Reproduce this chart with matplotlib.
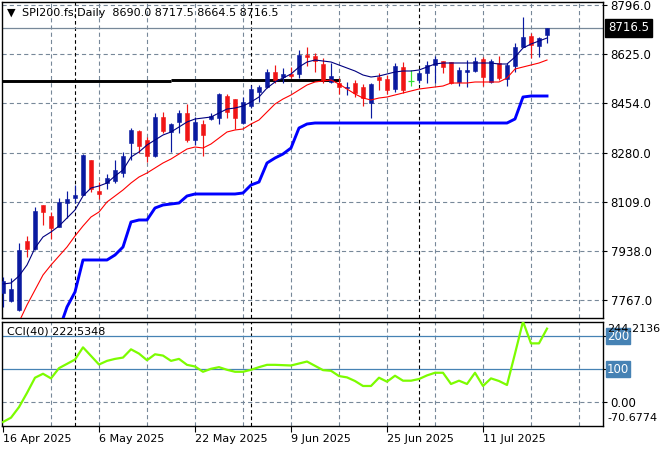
import numpy as np
import matplotlib
matplotlib.use("Agg")
import matplotlib.pyplot as plt
import matplotlib.transforms as mtransforms

plt.rcParams['font.family'] = ['DejaVu Sans']
plt.rcParams['lines.scale_dashes'] = False

# ---------------- data ----------------
symbol = "SPI200.fs,Daily"

opens = [7790.9, 7763.0, 7731.6, 7972.4, 7944.4, 8098.0, 8059.6, 8021.2, 8105.0, 8122.4,
         8132.9, 8255.1, 8146.9, 8174.8, 8181.8, 8209.7, 8314.4, 8356.3, 8324.9, 8269.0,
         8405.1, 8352.8, 8387.7, 8419.1, 8324.9, 8380.7, 8398.1, 8401.6, 8478.4, 8467.9,
         8384.2, 8443.5, 8492.4, 8509.8, 8562.2, 8544.7, 8555.2, 8555.2, 8621.5, 8618.0,
         8590.1, 8527.3, 8523.8, 8506.3, 8523.8, 8509.8, 8454.0, 8544.7, 8537.7, 8502.8,
         8579.6, 8530.8, 8534.3, 8558.7, 8586.6, 8600.6, 8597.1, 8527.3, 8562.2, 8565.7,
         8607.5, 8527.3, 8593.6, 8537.7, 8583.1, 8649.4, 8687.8, 8652.9, 8690.0]
highs = [7846.7, 7843.2, 7965.4, 7989.8, 8091.0, 8098.0, 8073.6, 8122.4, 8146.9, 8167.8,
         8276.0, 8255.1, 8178.3, 8206.2, 8255.1, 8283.0, 8366.7, 8359.8, 8335.3, 8419.1,
         8422.6, 8384.2, 8429.6, 8450.5, 8405.1, 8394.7, 8419.1, 8488.9, 8485.4, 8467.9,
         8474.9, 8516.8, 8516.8, 8572.6, 8586.6, 8576.1, 8579.6, 8639.0, 8649.4, 8628.5,
         8611.0, 8593.6, 8541.2, 8527.3, 8534.3, 8520.3, 8523.8, 8558.7, 8551.7, 8593.6,
         8597.1, 8569.2, 8569.2, 8600.6, 8618.0, 8600.6, 8597.1, 8579.6, 8604.0, 8614.5,
         8614.5, 8607.5, 8618.0, 8593.6, 8663.4, 8754.1, 8698.3, 8684.3, 8717.5]
lows = [7742.0, 7759.5, 7728.0, 7916.5, 7941.0, 8028.2, 7979.3, 8021.2, 8052.6, 8105.0,
        8132.9, 8143.4, 8118.9, 8153.8, 8174.8, 8195.7, 8255.1, 8279.5, 8248.1, 8265.5,
        8349.3, 8283.0, 8349.3, 8317.9, 8307.4, 8269.0, 8394.7, 8380.7, 8401.6, 8363.2,
        8380.7, 8436.5, 8457.5, 8506.3, 8523.8, 8523.8, 8541.2, 8541.2, 8583.1, 8562.2,
        8523.8, 8523.8, 8485.4, 8481.9, 8474.9, 8443.5, 8401.6, 8499.4, 8485.4, 8492.4,
        8488.9, 8513.3, 8523.8, 8523.8, 8523.8, 8558.7, 8520.3, 8513.3, 8509.8, 8562.2,
        8513.3, 8523.8, 8534.3, 8513.3, 8562.2, 8649.4, 8611.0, 8614.5, 8664.5]
closes = [7832.8, 7804.8, 7941.0, 7944.4, 8077.1, 8073.6, 8017.7, 8108.5, 8118.9, 8132.9,
          8272.5, 8153.8, 8136.4, 8192.2, 8220.2, 8269.0, 8359.8, 8303.9, 8269.0, 8405.1,
          8356.3, 8380.7, 8419.1, 8324.9, 8387.7, 8342.3, 8408.6, 8485.4, 8422.6, 8401.6,
          8457.5, 8502.8, 8509.8, 8562.2, 8534.3, 8555.2, 8548.2, 8621.5, 8614.5, 8600.6,
          8534.3, 8548.2, 8509.8, 8509.8, 8488.9, 8471.4, 8520.3, 8534.3, 8499.4, 8583.1,
          8499.4, 8530.8, 8558.7, 8586.6, 8607.5, 8579.6, 8523.8, 8569.2, 8569.2, 8600.6,
          8544.7, 8600.6, 8541.2, 8586.6, 8649.4, 8684.3, 8656.4, 8680.8, 8716.5]

fast_ma = [7822.3, 7825.8, 7850.2, 7888.6, 7947.9, 7986.3, 8003.8, 8024.7, 8052.6, 8080.6,
           8129.4, 8157.3, 8164.3, 8174.8, 8199.2, 8220.2, 8265.5, 8283.0, 8307.4, 8324.9,
           8342.3, 8352.8, 8370.2, 8387.7, 8398.1, 8401.6, 8405.1, 8419.1, 8433.0, 8436.5,
           8443.5, 8457.5, 8474.9, 8506.3, 8527.3, 8541.2, 8555.2, 8579.6, 8597.1, 8604.0,
           8600.6, 8597.1, 8586.6, 8576.1, 8565.7, 8551.7, 8544.7, 8548.2, 8555.2, 8562.2,
           8565.7, 8565.7, 8569.2, 8579.6, 8590.1, 8593.6, 8593.6, 8593.6, 8593.6, 8593.6,
           8593.6, 8593.6, 8590.1, 8590.1, 8614.5, 8645.9, 8659.9, 8670.4, 8680.8]
slow_ma = [7626.9, 7661.8, 7689.7, 7749.0, 7801.4, 7853.7, 7888.6, 7920.0, 7951.4, 7989.8,
           8024.7, 8056.1, 8073.6, 8108.5, 8129.4, 8150.4, 8174.8, 8195.7, 8209.7, 8227.1,
           8244.6, 8258.5, 8276.0, 8293.4, 8300.4, 8296.9, 8310.9, 8331.8, 8352.8, 8359.8,
           8363.2, 8380.7, 8394.7, 8422.6, 8450.5, 8467.9, 8481.9, 8499.4, 8516.8, 8527.3,
           8530.8, 8534.3, 8520.3, 8502.8, 8485.4, 8471.4, 8464.5, 8471.4, 8474.9, 8481.9,
           8488.9, 8495.9, 8502.8, 8506.3, 8509.8, 8513.3, 8523.8, 8523.8, 8523.8, 8527.3,
           8527.3, 8527.3, 8527.3, 8541.2, 8572.6, 8579.6, 8586.6, 8593.6, 8604.0]
nan = float('nan')
stop_line = [nan, nan, nan, nan, nan, nan, nan, 7661.8, 7742.0, 7794.4,
             7906.1, 7906.1, 7906.1, 7906.1, 7923.5, 7951.4, 8038.7, 8045.7, 8045.7, 8087.5,
             8098.0, 8101.5, 8105.0, 8129.4, 8136.4, 8136.4, 8136.4, 8136.4, 8136.4, 8136.4,
             8139.9, 8167.8, 8178.3, 8244.6, 8262.0, 8276.0, 8296.9, 8366.7, 8380.7, 8384.2,
             8384.2, 8384.2, 8384.2, 8384.2, 8384.2, 8384.2, 8384.2, 8384.2, 8384.2, 8384.2,
             8384.2, 8384.2, 8384.2, 8384.2, 8384.2, 8384.2, 8384.2, 8384.2, 8384.2, 8384.2,
             8384.2, 8384.2, 8384.2, 8384.2, 8398.1, 8474.9, 8478.4, 8478.4, 8478.4]

level_prices = [8531.0, 8534.5]
level_from = [-1.0, 21.0]
level_to = [21.0, 42.1]

cci = [-60, -47, -15, 28, 74, 86, 72, 103, 116, 129,
       166, 140, 114, 125, 131, 135, 160, 147, 127, 145,
       141, 125, 131, 113, 108, 92, 101, 106, 98, 92,
       92, 98, 106, 113, 113, 112, 111, 117, 123, 110,
       97, 95, 79, 75, 64, 49, 49, 74, 62, 80,
       65, 65, 70, 81, 89, 89, 55, 65, 55, 89,
       49, 72, 64, 52, 147, 244.2136, 178, 178, 222.5348]
cci_levels = [200, 100]
cci_max, cci_min = 244.2136, -70.6774

price_ticks = [7767.0, 7938.0, 8109.0, 8280.0, 8454.0, 8625.0, 8796.0]
date_bars = [0, 12, 24, 36, 48, 60]
date_labels = ["16 Apr 2025", "6 May 2025", "22 May 2025", "9 Jun 2025", "25 Jun 2025", "11 Jul 2025"]
grid_bars = [6, 12, 18, 24, 30, 36, 42, 48, 54, 60, 66, 72]
separator_bars = [9, 31, 52]

# ---------------- figure ----------------
W, H = 660, 450
fig = plt.figure(figsize=(W / 100, H / 100), dpi=100)
fig.patch.set_facecolor('white')


def rect(l, t, r, b):
    return [l / W, 1 - b / H, (r - l) / W, (b - t) / H]


ax = fig.add_axes(rect(2, 2, 603, 318))
axc = fig.add_axes(rect(2, 321.5, 603, 425.5))

GRID = '#778899'
BULL = '#0A1AA0'
BEAR = '#F01515'
DOJI = '#33E033'
grid_dash = (0, (3.0, 2.2))
sep_dash = (0, (2.6, 2.0))
FS = 8.0

o = np.array(opens); h = np.array(highs); l = np.array(lows); c = np.array(closes)
n = len(c)
x = np.arange(n)
XL = (-0.125, 75.0)

for a in (ax, axc):
    a.set_xlim(*XL)
    a.set_facecolor('white')
    for s in a.spines.values():
        s.set_color('black')
        s.set_linewidth(1.0)
    for gb in grid_bars:
        a.axvline(gb, color=GRID, lw=0.8, ls=grid_dash, zorder=0)
    for sb in separator_bars:
        a.axvline(sb, color='black', lw=0.8, ls=sep_dash, zorder=0.5)

ax.set_ylim(7703.6, 8806.5)
axc.set_ylim(cci_min, cci_max)

for pt in price_ticks:
    ax.axhline(pt, color=GRID, lw=0.8, ls=grid_dash, zorder=0)
axc.axhline(0, color=GRID, lw=0.8, ls=grid_dash, zorder=0)

# current price line
ax.axhline(c[-1], color=GRID, lw=0.9, zorder=0.6)

# black level lines
ax.hlines(level_prices, level_from, level_to, colors='black', lw=2.1, zorder=2)

# candles
bull = c > o
bear = c < o
flat = c == o
cols = np.where(bull, BULL, np.where(bear, BEAR, DOJI))
ax.vlines(x, l, h, colors=cols, lw=0.85, zorder=3)
ppx = (8806.5 - 7703.6) / 316.0
body_lo = np.minimum(o, c)
body_h = np.maximum(np.abs(c - o), 1.3 * ppx)
nf = ~flat
ax.bar(x[nf], body_h[nf], bottom=body_lo[nf], width=0.6, color=cols[nf],
       edgecolor=cols[nf], lw=0.4, zorder=3.5)
ax.hlines(o[flat], x[flat] - 0.32, x[flat] + 0.32, colors=DOJI, lw=0.9, zorder=3.5)

# indicator lines
ax.plot(x, stop_line, color='#0000FF', lw=2.1, zorder=4)
ax.plot(x, fast_ma, color='#000080', lw=0.8, zorder=4)
ax.plot(x, slow_ma, color='#FF0000', lw=0.8, zorder=4)

# right price axis
ax.yaxis.tick_right()
ax.set_yticks(price_ticks)
ax.set_yticklabels([f'{v:.1f}' for v in price_ticks])
ax.tick_params(axis='y', direction='out', length=3, width=0.8, pad=2.5, labelsize=8.5, colors='black')
ax.tick_params(axis='x', bottom=False, labelbottom=False)

trm = mtransforms.blended_transform_factory(ax.transAxes, ax.transData)
ax.text(1.0 + 5 / 601, c[-1], f'{c[-1]:.1f}', transform=trm, ha='left', va='center',
        color='white', fontsize=8.5, zorder=10, clip_on=False,
        bbox=dict(boxstyle='square,pad=0.22', fc='black', ec='black'))

# title
fig.text(7 / W, 1 - 12.5 / H, '\u25BC', ha='left', va='center', fontsize=8, color='black')
fig.text(22 / W, 1 - 13 / H,
         f'{symbol}  {o[-1]:.1f} {h[-1]:.1f} {l[-1]:.1f} {c[-1]:.1f}',
         ha='left', va='center', fontsize=FS, color='black')

# CCI panel
axc.hlines(cci_levels, XL[0], XL[1], colors='#4682B4', lw=0.9, zorder=1)
axc.plot(x, cci, color='#7CFC00', lw=1.6, zorder=4)
axc.yaxis.tick_right()
axc.set_yticks([200, 100, 0])
axc.set_yticklabels(['', '', '0.00'])
axc.tick_params(axis='y', direction='out', length=3, width=0.8, pad=2.5, labelsize=8.5, colors='black')
trc = mtransforms.blended_transform_factory(axc.transAxes, axc.transData)
for lv in cci_levels:
    axc.text(1.0 + 4 / 601, lv, f'{lv}', transform=trc, ha='left', va='center', color='white',
             fontsize=8.5, clip_on=False, zorder=5,
             bbox=dict(boxstyle='square,pad=0.1', fc='#4682B4', ec='#4682B4'))
fig.text(607 / W, 1 - 329 / H, f'{cci_max:.4f}', ha='left', va='center', fontsize=FS, color='black', zorder=20)
fig.text(607 / W, 1 - 418 / H, f'{cci_min:.4f}', ha='left', va='center', fontsize=FS, color='black')
fig.text(7 / W, 1 - 331 / H, f'CCI(40) {cci[-1]:.4f}', ha='left', va='center', fontsize=FS, color='black')

axc.set_xticks(date_bars)
axc.set_xticklabels(date_labels, ha='left')
axc.tick_params(axis='x', direction='out', length=4, width=0.8, pad=2, labelsize=FS, colors='black')

fig.savefig('out.png', dpi=100, facecolor='white')
